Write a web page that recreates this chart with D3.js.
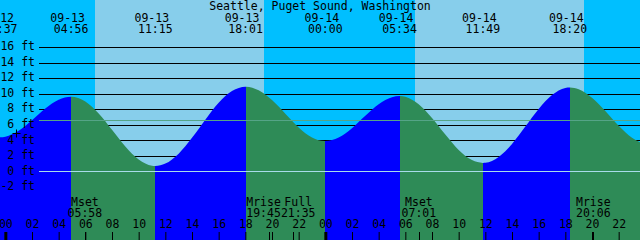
<!DOCTYPE html>
<html>
<head>
<meta charset="utf-8">
<script src="https://cdn.jsdelivr.net/npm/d3@7"></script>
<style>
  html, body { margin: 0; padding: 0; background: #fff; }
  svg { display: block; }
  text { font-family: "DejaVu Sans Mono", monospace; font-size: 11.5px; fill: #000; }
</style>
</head>
<body>
<div id="wrapper"></div>
<script>
const title = "Seattle, Puget Sound, Washington";

// high / low tide events
const tideTimes = ["09-12 23:37", "09-13 04:56", "09-13 11:15", "09-13 18:01",
                   "09-14 00:00", "09-14 05:34", "09-14 11:49", "09-14 18:20"];
const tideFeet  = [4.4, 9.6, 0.7, 10.9, 3.9, 9.7, 1.1, 10.8];
const tideKinds = ["low", "high", "low", "high", "low", "high", "low", "high"];

// water level (hours after 09-13 00:00, feet)
const curveHours = [-1, -0.383, 0, 1, 2, 3, 4, 4.933, 6, 7, 8, 9, 10, 11, 11.25,
                    12, 13, 14, 15, 16, 17, 18.017, 19, 20, 21, 22, 23, 24,
                    25, 26, 27, 28, 29, 29.567, 30, 31, 32, 33, 34, 35, 35.817,
                    36, 37, 38, 39, 40, 41, 42, 42.333, 43, 44, 45, 46, 47, 48, 48.3];
const curveFeet  = [4.5, 4.4, 4.47, 5.22, 6.58, 8.08, 9.21, 9.6, 8.99, 7.45, 5.35, 3.21, 1.53, 0.73, 0.7,
                    1.01, 2.29, 4.32, 6.66, 8.83, 10.34, 10.9, 10.44, 9.17, 7.42, 5.66, 4.37, 3.9,
                    4.35, 5.56, 7.15, 8.64, 9.55, 9.7, 9.60, 8.63, 6.86, 4.74, 2.77, 1.46, 1.1,
                    1.12, 1.87, 3.54, 5.77, 8.04, 9.82, 10.74, 10.8, 10.58, 9.48, 7.76, 5.86, 4.32, 3.55, 3.5];

// daylight
const sunrises = ["09-13 06:44", "09-14 06:44"];
const sunsets  = ["09-13 19:24", "09-14 19:22"];

// moon events
const moonTimes = ["09-13 05:58", "09-13 19:45", "09-13 21:35", "09-14 07:01", "09-14 20:06"];
const moonNames = ["Mset", "Mrise", "Full", "Mset", "Mrise"];

// marker on the curve
const markTime = "09-13 00:47";
const markFeet = 4.98;

const feetTicks = [-2, 0, 2, 4, 6, 8, 10, 12, 14, 16];
const hourTicks = d3.range(0, 48, 2);
const meanSeaLevel = 6.56;

const W = 640, H = 240;
const nightColor = "#00bfff", dayColor = "#87ceeb";
const floodColor = "#0000ff", ebbColor = "#2e8b57";

function toHours(s) {
    let [md, hm] = s.split(" ");
    let day = +md.split("-")[1];
    let [hh, mm] = hm.split(":").map(Number);
    return (day - 13) * 24 + hh + mm / 60;
}

let xScale = d3.scaleLinear()
                .domain([-0.4, 47.6])
                .range([0, W]);

let yScale = d3.scaleLinear()
                .domain([-2, 16])
                .range([187, 47]);

let svg = d3.select("#wrapper")
            .append("svg")
            .attr("width", W)
            .attr("height", H);

// night background, then day bands
svg.append("rect")
    .attr("width", W)
    .attr("height", H)
    .attr("fill", nightColor);

svg.append("g")
    .selectAll("rect")
    .data(sunrises)
    .enter()
    .append("rect")
    .attr("x", (d, i) => Math.round(xScale(toHours(d))))
    .attr("y", 0)
    .attr("width", (d, i) => Math.round(xScale(toHours(sunsets[i]))) - Math.round(xScale(toHours(d))))
    .attr("height", H)
    .attr("fill", dayColor);

// grid lines
svg.append("g")
    .selectAll("line")
    .data(feetTicks.filter(d => d != 0))
    .enter()
    .append("line")
    .attr("x1", 39)
    .attr("x2", W)
    .attr("y1", d => Math.round(yScale(d)) + 0.5)
    .attr("y2", d => Math.round(yScale(d)) + 0.5)
    .attr("stroke", "#000")
    .attr("stroke-width", 1);

// water, coloured by rising / falling
let extremeHours = tideTimes.map(toHours);
let bounds = [xScale.domain()[0] - 1].concat(extremeHours, [xScale.domain()[1] + 1]);
let segments = [];
for (let i = 0; i < bounds.length - 1; i++) {
    let endKind = i < tideKinds.length ? tideKinds[i] : (tideKinds[tideKinds.length - 1] == "high" ? "low" : "high");
    segments.push({ t0: bounds[i], t1: bounds[i + 1], rising: endKind == "high" });
}

let curveData = curveHours.map((h, i) => ({ h: h, ft: curveFeet[i] }));

let areaMaker = d3.area()
                .x(d => xScale(d.h))
                .y0(H)
                .y1(d => yScale(d.ft))
                .curve(d3.curveMonotoneX);

let defs = svg.append("defs");
segments.forEach((s, i) => {
    let x0 = Math.round(Math.max(-10, xScale(s.t0)));
    let x1 = Math.round(Math.min(W + 10, xScale(s.t1)));
    defs.append("clipPath")
        .attr("id", `seg_${i}`)
        .append("rect")
        .attr("x", x0)
        .attr("y", 0)
        .attr("width", Math.max(0, x1 - x0))
        .attr("height", H);
});

svg.append("g")
    .selectAll("path")
    .data(segments)
    .enter()
    .append("path")
    .attr("clip-path", (d, i) => `url(#seg_${i})`)
    .attr("fill", d => d.rising ? floodColor : ebbColor)
    .attr("d", areaMaker(curveData));

// mean sea level and datum lines
svg.append("line")
    .attr("x1", 39).attr("x2", W)
    .attr("y1", Math.round(yScale(meanSeaLevel)) + 0.5)
    .attr("y2", Math.round(yScale(meanSeaLevel)) + 0.5)
    .attr("stroke", "#55a487")
    .attr("stroke-width", 1);

svg.append("line")
    .attr("x1", 39).attr("x2", W)
    .attr("y1", Math.round(yScale(0)) + 0.5)
    .attr("y2", Math.round(yScale(0)) + 0.5)
    .attr("stroke", "#a8dcea")
    .attr("stroke-width", 1);

// y labels
svg.append("g")
    .selectAll("text")
    .data(feetTicks)
    .enter()
    .append("text")
    .attr("x", 35)
    .attr("y", d => yScale(d) + 3.2)
    .style("text-anchor", "end")
    .text(d => d + " ft");

// title
svg.append("text")
    .attr("x", W / 2)
    .attr("y", 9.7)
    .style("text-anchor", "middle")
    .text(title);

// tide event labels
let tideLabels = svg.append("g")
                    .selectAll("g")
                    .data(tideTimes)
                    .enter()
                    .append("g")
                    .attr("transform", d => `translate(${xScale(toHours(d))}, 0)`);

tideLabels.append("text")
    .attr("x", -3.5)
    .attr("y", 21.7)
    .style("text-anchor", "middle")
    .text(d => d.split(" ")[0]);

tideLabels.append("text")
    .attr("y", 33.2)
    .style("text-anchor", "middle")
    .text(d => d.split(" ")[1]);

// moon labels, pushed apart where they collide
let labelW = 5 * 6.93;
let moonX = moonTimes.map(d => xScale(toHours(d)));
let labelX = moonX.slice();
for (let i = 1; i < labelX.length; i++) {
    if (labelX[i] - labelX[i - 1] < labelW) {
        let mid = (labelX[i] + labelX[i - 1]) / 2;
        labelX[i - 1] = mid - labelW / 2;
        labelX[i] = mid + labelW / 2;
    }
}

let moonLabels = svg.append("g")
                    .selectAll("g")
                    .data(moonTimes)
                    .enter()
                    .append("g")
                    .attr("transform", (d, i) => `translate(${labelX[i]}, 0)`);

moonLabels.append("text")
    .attr("y", 206.2)
    .style("text-anchor", "middle")
    .text((d, i) => moonNames[i]);

moonLabels.append("text")
    .attr("y", 217.4)
    .style("text-anchor", "middle")
    .text(d => d.split(" ")[1]);

svg.append("g")
    .selectAll("line")
    .data(moonX)
    .enter()
    .append("line")
    .attr("x1", d => Math.round(d) + 0.5)
    .attr("x2", d => Math.round(d) + 0.5)
    .attr("y1", 232)
    .attr("y2", H)
    .attr("stroke", "#000");

// hour axis
let xAxisFunction = d3.axisTop(xScale)
                        .tickValues(hourTicks)
                        .tickSize(8)
                        .tickPadding(4)
                        .tickFormat(d => d3.format("02d")(d % 24));

let xG = svg.append("g")
            .attr("transform", `translate(0, ${H})`)
            .call(xAxisFunction);

xG.select(".domain").remove();
xG.selectAll(".tick line")
    .attr("stroke", "#000")
    .attr("stroke-width", d => d % 24 == 0 ? 3 : 1);
xG.selectAll(".tick text")
    .attr("fill", "#000")
    .style("font-family", "'DejaVu Sans Mono', monospace")
    .style("font-size", "11.5px");

// cross marker
let mx = Math.round(xScale(toHours(markTime))) + 0.5;
let my = Math.round(yScale(markFeet)) + 0.5;
svg.append("path")
    .attr("d", `M${mx - 4},${my}H${mx + 4}M${mx},${my - 4}V${my + 4}`)
    .attr("stroke", "#000")
    .attr("stroke-width", 1);
</script>
</body>
</html>
